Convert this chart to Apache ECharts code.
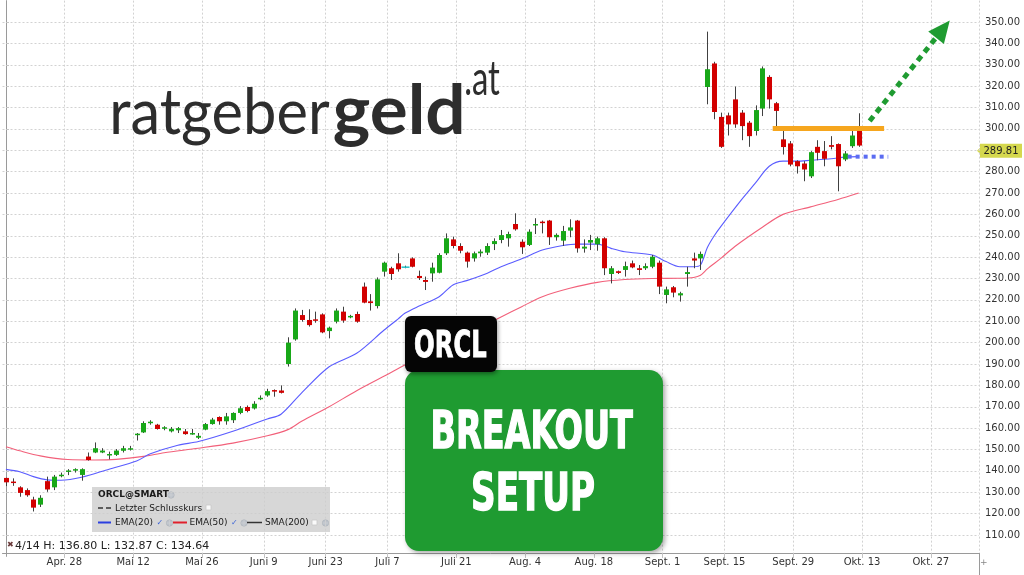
<!DOCTYPE html>
<html><head><meta charset="utf-8">
<script src="https://cdn.jsdelivr.net/npm/echarts@6/dist/echarts.min.js"></script>
<style>html,body{margin:0;padding:0;background:#fff}#c{width:1024px;height:575px}</style>
</head><body><div id="c"></div>
<script>
// ---------- DATA ----------
const categories = ['4/14','4/15','4/16','4/17','4/21','4/22','4/23','4/24','4/25','4/28','4/29','4/30',
'5/1','5/2','5/5','5/6','5/7','5/8','5/9','5/12','5/13','5/14','5/15','5/16','5/19','5/20','5/21','5/22','5/23','5/27','5/28','5/29','5/30',
'6/2','6/3','6/4','6/5','6/6','6/9','6/10','6/11','6/12','6/13','6/16','6/17','6/18','6/20','6/23','6/24','6/25','6/26','6/27','6/30',
'7/1','7/2','7/3','7/7','7/8','7/9','7/10','7/11','7/14','7/15','7/16','7/17','7/18','7/21','7/22','7/23','7/24','7/25','7/28','7/29','7/30','7/31',
'8/1','8/4','8/5','8/6','8/7','8/8','8/11','8/12','8/13','8/14','8/15','8/18','8/19','8/20','8/21','8/22','8/25','8/26','8/27','8/28','8/29',
'9/2','9/3','9/4','9/5','9/8','9/9','9/10','9/11','9/12','9/15','9/16','9/17','9/18','9/19','9/22','9/23','9/24','9/25','9/26','9/29','9/30',
'10/1','10/2','10/3','10/6','10/7','10/8','10/9','10/10','10/13','10/14','10/15','10/16','10/17','10/20','10/21','10/22','10/23','10/24','10/27','10/28','10/29','10/30','10/31',
'11/3','11/4'];

const opens = [
136.7,135.0,132.3,131.0,126.6,124.2,135.2,132.3,137.6,139.6,
140.2,138.1,146.7,148.6,148.6,147.3,147.5,149.4,150.1,156.9,
158.0,162.7,161.6,159.9,158.5,159.0,158.5,157.2,155.5,159.3,
161.9,165.2,163.2,163.7,167.1,169.9,169.2,173.7,175.3,177.8,
177.6,190.0,201.5,212.9,210.6,210.9,213.2,205.4,209.8,214.5,
212.4,213.4,226.2,219.3,217.1,233.2,234.8,237.1,235.3,239.4,
231.2,229.3,232.4,232.7,241.8,248.3,245.2,242.1,239.4,241.8,
242.1,246.1,248.0,248.8,255.5,247.2,245.7,254.9,256.6,257.1,
249.3,247.7,252.4,257.1,244.0,246.8,246.0,248.8,232.1,233.4,
234.0,237.1,234.8,234.8,235.5,237.4,222.3,225.9,222.1,232.1,
239.4,239.4,319.6,330.6,305.6,306.3,313.8,307.6,302.9,299.0,
309.5,324.3,312.0,295.1,293.2,284.9,283.8,277.8,291.6,289.6,
292.4,292.9,285.7,291.9,301.0];
const highs = [
136.8,136.5,132.8,131.8,127.9,128.6,137.3,138.1,139.2,140.8,
141.2,141.2,148.6,153.3,150.6,149.0,150.2,151.7,151.7,157.7,
163.2,163.7,162.0,160.9,160.5,160.5,159.6,159.6,157.7,162.4,
164.8,165.5,167.1,167.4,170.3,170.6,172.6,175.3,178.4,178.1,
180.0,202.5,216.0,215.3,215.6,214.5,213.7,207.5,216.0,216.8,
213.0,214.5,228.1,222.7,230.5,237.9,235.5,241.8,236.0,239.9,
233.7,230.9,237.4,241.8,251.1,249.6,246.5,242.6,242.6,243.6,
246.5,248.8,252.7,251.9,260.5,248.3,253.0,258.2,257.1,257.4,
251.1,254.6,257.7,257.4,248.3,250.4,249.6,249.3,235.8,233.7,
237.9,238.4,236.3,237.1,241.0,238.4,226.2,226.5,223.8,235.5,
242.1,242.6,345.5,331.4,307.6,307.6,319.8,308.8,303.7,311.0,
329.2,325.1,312.6,299.0,294.3,285.3,284.9,289.6,294.7,294.3,
296.6,293.2,289.6,299.8,307.3];
const lows = [
132.87,133.0,127.9,127.9,121.0,123.1,130.2,131.0,137.0,138.0,
139.2,135.4,144.8,148.3,148.3,145.4,147.0,148.6,149.5,154.2,
157.7,161.6,159.3,159.0,158.0,157.7,156.9,156.9,154.9,159.0,
161.6,161.6,161.6,162.4,166.5,167.4,168.7,173.1,174.7,174.7,
176.2,188.8,200.9,209.8,207.5,209.3,204.4,202.0,209.0,209.3,
211.4,209.3,218.4,215.0,216.0,230.9,229.3,233.2,234.8,235.2,
229.3,224.6,228.5,232.4,241.0,244.1,241.8,235.1,237.9,240.2,
241.0,243.3,246.5,244.9,252.4,241.5,245.2,250.8,251.1,245.7,
247.7,245.2,249.3,242.1,242.1,243.3,243.0,231.6,227.7,232.1,
230.9,234.8,231.6,234.0,234.8,222.7,218.4,221.2,219.2,226.2,
234.8,234.0,311.5,304.5,291.1,296.9,300.5,294.7,291.6,296.9,
306.0,309.5,301.0,288.0,282.5,279.1,275.5,277.0,285.3,282.5,
290.4,270.8,284.9,291.1,291.6];
const closes = [
134.64,134.3,129.7,128.6,122.8,127.4,131.3,137.3,138.2,140.2,
140.8,140.8,145.1,150.6,149.5,147.9,149.5,150.6,150.6,157.4,
162.4,163.0,159.6,160.4,159.7,160.0,157.2,157.7,156.4,161.9,
164.0,163.2,165.5,167.1,169.3,168.0,171.4,174.2,177.3,177.3,
176.5,200.0,215.0,210.6,208.2,210.3,204.8,207.0,215.0,210.3,
212.5,209.8,218.7,218.5,229.6,237.4,232.1,234.3,235.3,235.5,
230.2,228.4,235.1,241.0,248.8,245.2,243.0,237.9,241.8,242.6,
245.2,247.5,250.3,250.8,253.0,244.6,251.9,255.5,256.1,249.3,
250.4,252.2,253.9,244.1,244.9,248.0,248.8,234.8,234.8,232.6,
235.8,235.2,234.0,235.8,240.2,226.2,224.9,223.4,223.1,233.0,
238.4,241.5,327.9,307.9,291.6,302.1,302.1,301.3,296.6,308.8,
328.3,313.8,308.4,291.5,283.3,282.5,281.0,289.1,288.8,286.0,
291.6,282.5,288.5,296.9,292.2];

// EMA lines (category index, value)
const ema20Idx = [0,2,4,6,8,11,15,19,21,25,28,33,38,40,43,47,51,55,57,58,60,63,65,67,70,72,75,78,81,83,86,88,90,94,96,98,100,101,102,103,104,107,109,111,113,115,117,120,122,124];
const ema20Val = [140.7,139.6,137.3,135.8,135.6,137.0,140.8,144.6,148.0,152.0,153.7,158.5,164.3,166.5,176.5,188.7,195.0,205.9,211.0,213.7,217.0,221.5,227.0,229.0,232.5,235.5,239.2,243.3,245.4,246.1,246.1,244.1,242.5,241.0,237.9,235.5,235.5,236.3,244.5,250.0,254.5,267.0,274.7,282.5,284.9,284.9,285.3,286.0,286.8,287.0];
const ema50Idx = [0,2,5,9,13,16,20,23,28,33,38,41,43,47,51,56,58,72,75,78,82,86,90,94,98,100,101,102,104,106,110,113,117,121,124];
const ema50Val = [151.3,149.4,147.0,145.3,145.1,145.4,146.8,148.5,150.6,153.0,156.4,159.3,163.2,170.0,177.5,186.0,189.5,212.0,216.8,221.5,225.4,228.2,229.5,230.0,230.1,230.5,231.5,234.5,239.5,245.0,254.0,260.0,263.5,267.0,270.0];

const tickDates  = ['4/28','5/12','5/27','6/9','6/23','7/7','7/21','8/4','8/18','9/2','9/15','9/29','10/13','10/27'];
const tickLabels = ['Apr. 28','Mai 12','Mai 26','Juni 9','Juni 23','Juli 7','Juli 21','Aug. 4','Aug. 18','Sept. 1','Sept. 15','Sept. 29','Okt. 13','Okt. 27'];
const yMin = 100, yMax = 360, yStep = 10;
const lastPrice = 289.81;

// hand-drawn annotations (category index, price)
const resistanceLine = [[111.5, 300.2], [127.7, 300.2]];
const supportDots = [[122.4, 287.0], [128.3, 287.0]];
const arrowLine = [[125.6, 303.7], [136.25, 346.7]];

// ---------- CHART ----------
const GREEN = '#18a818', RED = '#d20000', DOJI = '#22c0c8';
const candleData = opens.map((o, i) => [i, o, closes[i], lows[i], highs[i]]);
const ema20 = ema20Idx.map((x, i) => [x, ema20Val[i]]);
const ema50 = ema50Idx.map((x, i) => [x, ema50Val[i]]);

const mctx = document.createElement('canvas').getContext('2d');
function fitText(text, font, L, R, T, B, fill, z, strokeW) {
  mctx.font = font; mctx.textBaseline = 'middle'; mctx.textAlign = 'left';
  const m = mctx.measureText(text);
  const bl = m.actualBoundingBoxLeft, br = m.actualBoundingBoxRight;
  const ba = m.actualBoundingBoxAscent, bd = m.actualBoundingBoxDescent;
  const sx = (R - L) / (bl + br), sy = (B - T) / (ba + bd);
  const style = {text, font, fill, x: 0, y: 0, align: 'left', verticalAlign: 'middle', textAlign: 'left', textVerticalAlign: 'middle'};
  if (strokeW) { style.stroke = fill; style.lineWidth = strokeW; }
  return {type: 'text', x: L + sx * bl, y: T + sy * ba, scaleX: sx, scaleY: sy, z: z || 50, style};
}
function txt(text, x, y, font, fill, z) {
  return {type: 'text', x, y, z: z || 60, style: {text, font, fill, x: 0, y: 0, align: 'left', verticalAlign: 'middle', textAlign: 'left', textVerticalAlign: 'middle'}};
}
function globe(cx, cy) {
  return {type: 'group', x: cx, y: cy, z: 60, children: [
    {type: 'circle', shape: {cx: 0, cy: 0, r: 3.2}, style: {fill: '#7f9cc4', stroke: '#44607f', lineWidth: 0.8}},
    {type: 'line', shape: {x1: -3, y1: 0, x2: 3, y2: 0}, style: {stroke: '#dde6f2', lineWidth: 0.6}},
    {type: 'line', shape: {x1: 0, y1: -3, x2: 0, y2: 3}, style: {stroke: '#dde6f2', lineWidth: 0.6}}
  ]};
}
function box(x, y) {
  return {type: 'rect', z: 60, shape: {x, y, width: 5, height: 5}, style: {fill: '#fafafa', stroke: '#c8c8c8', lineWidth: 0.8}};
}
function seg(x1, x2, y, color, w) {
  return {type: 'line', z: 60, shape: {x1, y1: y, x2, y2: y}, style: {stroke: color, lineWidth: w}};
}
const F = '"DejaVu Sans", Verdana, sans-serif';
const impact = 'bold 60px "DejaVu Sans Condensed", "Liberation Sans Narrow", "DejaVu Sans", sans-serif';

const graphics = [
  // logo
  fitText('ratgeber', '400 62px Lato, "Open Sans", sans-serif', 113, 330, 86, 146, '#2d2d2d', 40),
  fitText('geld', '700 62px Lato, "Open Sans", sans-serif', 334, 462, 83, 146, '#2d2d2d', 40),
  fitText('.at', '400 36px Lato, "Open Sans", sans-serif', 466, 500, 62, 95, '#2d2d2d', 40),
  // green box
  {type: 'rect', z: 80, shape: {x: 405, y: 370, width: 258, height: 181, r: 14},
    style: {fill: '#1f9b31', shadowBlur: 5, shadowColor: 'rgba(0,0,0,0.35)', shadowOffsetX: 2, shadowOffsetY: 2}},
  fitText('BREAKOUT', impact, 433, 633, 410, 449, '#ffffff', 85, 1.6),
  fitText('SETUP', impact, 473, 594, 472, 511, '#ffffff', 85, 1.6),
  // black ORCL box
  {type: 'rect', z: 90, shape: {x: 405, y: 316, width: 92, height: 56, r: 6},
    style: {fill: '#050505', shadowBlur: 4, shadowColor: 'rgba(0,0,0,0.4)', shadowOffsetX: 1, shadowOffsetY: 2}},
  fitText('ORCL', impact, 415, 486, 330, 358, '#ffffff', 95, 1.4),
  // legend box
  {type: 'rect', z: 55, shape: {x: 92, y: 487, width: 238, height: 45}, style: {fill: 'rgba(205,205,205,0.8)'}},
  txt('ORCL@SMART', 98, 495, 'bold 9px ' + F, '#1a1a1a'),
  globe(171, 495),
  seg(98, 103, 508, '#333', 1.5), seg(106, 111, 508, '#333', 1.5),
  txt('Letzter Schlusskurs', 115, 508.5, '9px ' + F, '#1a1a1a'),
  box(206, 505),
  seg(98, 111, 522.5, '#2b3fe0', 2),
  txt('EMA(20)', 115, 523, '9px ' + F, '#1a1a1a'),
  txt('\u2713', 156.5, 523, '8px ' + F, '#3a63d8'),
  globe(169.5, 523),
  seg(173, 187, 522.5, '#e0202c', 2),
  txt('EMA(50)', 189.5, 523, '9px ' + F, '#1a1a1a'),
  txt('\u2713', 231, 523, '8px ' + F, '#3a63d8'),
  globe(244, 523),
  seg(247, 262, 522.5, '#333', 1.5),
  txt('SMA(200)', 265, 523, '9px ' + F, '#1a1a1a'),
  box(312, 520),
  globe(325.5, 523),
  // hover info line
  txt('\u2716', 7, 545, '8px ' + F, '#6a3a3a'),
  txt('4/14 H: 136.80 L: 132.87 C: 134.64', 15, 546, '11px ' + F, '#222'),
  // axis extension and plus
  {type: 'line', z: 10, shape: {x1: 979.5, y1: 553, x2: 979.5, y2: 575}, style: {stroke: '#9a9a9a', lineWidth: 1}},
  txt('+', 980, 563, '9px ' + F, '#888')
];

const chart = echarts.init(document.getElementById('c'), null, {renderer: 'canvas'});
const isTick = (i, v) => tickDates.indexOf(v) >= 0;
chart.setOption({
  animation: false,
  backgroundColor: '#ffffff',
  grid: {left: 2.5, right: 45, top: 0.625, bottom: 18.625, containLabel: false},
  xAxis: [{
    type: 'category', data: categories, boundaryGap: true, offset: -3.4,
    axisLine: {show: true, lineStyle: {color: '#9a9a9a', width: 1}},
    axisTick: {show: true, interval: isTick, length: 5, lineStyle: {color: '#c4c4c4'}},
    axisLabel: {show: true, interval: isTick, formatter: v => tickLabels[tickDates.indexOf(v)] || '',
      color: '#333', fontSize: 10, fontFamily: 'DejaVu Sans', margin: 4, padding: [0, 7, 0, 0]},
    splitLine: {show: true, interval: isTick, lineStyle: {color: '#d2d2d2', type: [2, 2], width: 1}}
  }, {
    type: 'value', min: -0.5, max: categories.length - 0.5, show: false
  }],
  yAxis: {
    type: 'value', position: 'right', min: yMin, max: yMax, interval: yStep, scale: false,
    axisLine: {show: true, lineStyle: {color: '#9a9a9a'}},
    axisTick: {show: true, length: 3, lineStyle: {color: '#c4c4c4'}},
    axisLabel: {formatter: v => (Math.abs(v - lastPrice) < 5 ? '' : v.toFixed(2)), showMinLabel: false, showMaxLabel: false, margin: 6,
      fontSize: 10, color: '#333', fontFamily: 'DejaVu Sans'},
    splitLine: {show: true, showMinLine: false, showMaxLine: false, lineStyle: {color: '#d2d2d2', type: [2, 2]}}
  },
  series: [
    {type: 'line', name: 'EMA(50)', xAxisIndex: 1, data: ema50, symbol: 'none', smooth: 0.3, z: 3,
      lineStyle: {color: '#f2607a', width: 1.1}},
    {type: 'line', name: 'EMA(20)', xAxisIndex: 1, data: ema20, symbol: 'none', smooth: 0.3, z: 3,
      lineStyle: {color: '#5a5cff', width: 1.1}},
    {type: 'custom', name: 'ORCL', xAxisIndex: 0, data: candleData, z: 5,
      encode: {x: 0, y: [1, 2, 3, 4]},
      renderItem: function (params, api) {
        const i = api.value(0), o = api.value(1), c = api.value(2), l = api.value(3), h = api.value(4);
        const pO = api.coord([i, o]), pC = api.coord([i, c]), pL = api.coord([i, l]), pH = api.coord([i, h]);
        const w = 5;
        const x = Math.round(pO[0]) + 0.5;
        const top = Math.min(pO[1], pC[1]), bot = Math.max(pO[1], pC[1]);
        const color = c > o ? GREEN : (c < o ? RED : DOJI);
        const kids = [{type: 'line', shape: {x1: x, y1: pH[1], x2: x, y2: pL[1]}, style: {stroke: '#404040', lineWidth: 1}}];
        if (c === o) {
          kids.push({type: 'line', shape: {x1: x - 4, y1: top, x2: x + 4, y2: top}, style: {stroke: color, lineWidth: 1.5}});
        } else {
          kids.push({type: 'rect', shape: {x: x - w / 2, y: top, width: w, height: Math.max(bot - top, 1.5)}, style: {fill: color}});
        }
        return {type: 'group', children: kids};
      }},
    {type: 'line', name: 'resistance', xAxisIndex: 1, data: resistanceLine, symbol: 'none', z: 6,
      lineStyle: {color: '#f6a61e', width: 5}},
    {type: 'line', name: 'support', xAxisIndex: 1, data: supportDots, symbol: 'none', z: 6,
      lineStyle: {color: '#5b6cf2', width: 4, type: [4, 4]}},
    {type: 'line', name: 'arrow', xAxisIndex: 1, data: arrowLine, symbol: 'none', z: 6,
      lineStyle: {opacity: 0},
      markLine: {silent: true, animation: false,
        data: [[{coord: arrowLine[0], symbol: 'none'}, {coord: arrowLine[1], symbol: 'triangle', symbolSize: [20, 22]}]],
        lineStyle: {color: '#1f9b31', width: 5, type: [6, 5]}, label: {show: false}}}
  ],
  graphic: {elements: graphics}
});

// last-price tag on the price axis, positioned through the axis scale
const py = chart.convertToPixel({yAxisIndex: 0}, lastPrice);
const tag = {type: 'group', z: 70, children: [
  {type: 'polygon', shape: {points: [[977, py], [981, py - 4], [981, py + 4]]}, style: {fill: '#d5d84e'}},
  {type: 'rect', shape: {x: 980, y: py - 7, width: 42, height: 14}, style: {fill: '#d5d84e'}},
  {type: 'text', x: 983.5, y: py + 0.5, style: {text: lastPrice.toFixed(2), font: '10px ' + F, fill: '#222', x: 0, y: 0,
    align: 'left', verticalAlign: 'middle', textAlign: 'left', textVerticalAlign: 'middle'}}
]};
chart.setOption({graphic: {elements: graphics.concat([tag])}});
</script>
</body></html>
